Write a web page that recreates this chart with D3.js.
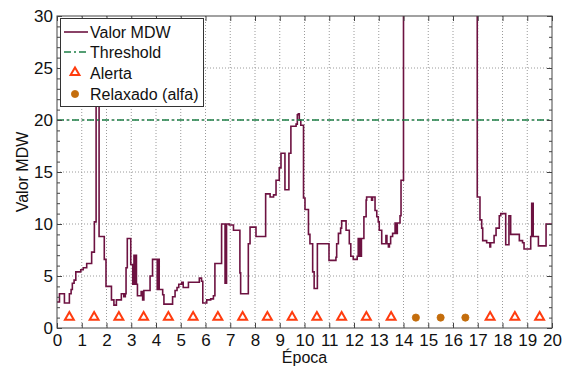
<!DOCTYPE html>
<html>
<head>
<meta charset="utf-8">
<script src="https://cdn.jsdelivr.net/npm/d3@7"></script>
<style>
  html, body { margin: 0; padding: 0; background: #fff; }
  svg text { font-family: "Liberation Sans", Arial, sans-serif; fill: #111; }
</style>
</head>
<body>
<svg id="chart" width="567" height="370"></svg>
<script>
// MDW value per epoch (step series: each value holds until the next epoch mark)
const epochs = [
  0.00, 0.10, 0.30, 0.50, 0.57, 0.62, 0.69, 0.76, 0.96, 1.06, 1.20, 1.40, 1.51, 1.58, 1.70, 1.91, 1.98,
  2.20, 2.30, 2.40, 2.60, 2.70, 2.76, 2.79, 2.84, 2.98, 3.06, 3.11, 3.13, 3.15, 3.17, 3.19, 3.21, 3.25,
  3.40, 3.46, 3.51, 3.76, 3.86, 4.05, 4.07, 4.09, 4.11, 4.13, 4.27, 4.32, 4.67, 4.77, 4.85, 4.92, 5.04,
  5.10, 5.31, 5.75, 5.84, 5.89, 6.05, 6.21, 6.32, 6.38, 6.65, 6.79, 6.85, 6.96, 7.13, 7.39, 7.42, 7.73,
  7.80, 8.04, 8.43, 8.61, 8.75, 8.85, 8.98, 9.05, 9.21, 9.37, 9.45, 9.66, 9.71, 9.75, 9.79, 9.85, 9.96,
  10.02, 10.16, 10.22, 10.33, 10.39, 10.52, 10.99, 11.27, 11.30, 11.37, 11.46, 11.50, 11.68, 11.81, 11.87,
  11.97, 12.13, 12.17, 12.20, 12.24, 12.27, 12.30, 12.40, 12.49, 12.51, 12.71, 12.75, 12.85, 12.92, 12.98,
  13.02, 13.12, 13.29, 13.33, 13.39, 13.43, 13.48, 13.56, 13.66, 13.70, 13.75, 13.86, 13.90, 14.00,
  16.98, 17.09, 17.16, 17.20, 17.36, 17.49, 17.52, 17.66, 17.74, 17.87, 17.93, 18.13, 18.26, 18.33, 18.68,
  18.81, 18.87, 19.14, 19.18, 19.24, 19.45, 19.76, 20.00
];
const mdwValues = [
  2.5, 3.3, 2.4, 3.3, 3.7, 4.3, 4.6, 5.4, 5.6, 5.8, 6.2, 7.3, 10.2, 24.0, 8.8, 6.6, 4.0,
  2.7, 2.2, 2.7, 3.3, 3.0, 3.3, 5.8, 8.6, 6.1, 4.2, 7.0, 4.2, 7.0, 4.2, 7.0, 4.2, 3.1,
  3.5, 2.7, 3.6, 5.0, 6.6, 3.7, 6.6, 3.7, 6.6, 3.7, 3.2, 2.3, 3.0, 3.6, 3.9, 4.2, 4.4,
  3.9, 4.4, 4.8, 4.5, 2.4, 2.7, 2.8, 3.1, 6.2, 10.0, 4.3, 10.0, 9.9, 9.4, 5.3, 3.3, 8.1,
  9.7, 8.8, 12.9, 12.6, 12.8, 14.2, 15.4, 16.8, 13.3, 16.8, 19.4, 19.6, 20.5, 20.6, 20.0, 19.5, 12.5,
  11.4, 9.0, 8.1, 5.4, 3.8, 8.1, 6.5, 6.8, 8.1, 9.1, 9.6, 10.3, 9.4, 8.1, 6.9,
  6.6, 6.9, 8.6, 6.9, 8.6, 6.9, 8.6, 10.7, 12.3, 12.6, 12.3, 12.6, 11.3, 10.7, 10.2,
  9.4, 8.1, 8.9, 8.1, 7.8, 8.1, 8.8, 9.1, 10.1, 9.1, 10.1, 10.8, 14.2, 45.0,
  12.6, 10.4, 9.6, 8.4, 8.2, 7.8, 8.2, 8.9, 9.6, 10.8, 11.0, 8.0, 10.8, 9.0, 8.4,
  8.2, 7.6, 8.8, 12.0, 8.8, 7.9, 10.0, 10.0
];
const threshold = 20;
const alertEpochs = [0.5, 1.5, 2.5, 3.5, 4.5, 5.5, 6.5, 7.5, 8.5, 9.5, 10.5, 11.5, 12.5, 13.5, 17.5, 18.5, 19.5];
const relaxEpochs = [14.5, 15.5, 16.5];
const markerLevel = 1;
const xTicks = d3.range(0, 21, 1);
const yTicks = [0, 5, 10, 15, 20, 25, 30];
const yMinorTicks = d3.range(0, 31, 1);
const legendLabels = ["Valor MDW", "Threshold", "Alerta", "Relaxado (alfa)"];

const lineColor = "#6d1241";
const threshColor = "#1c7f45";
const alertColor = "#ff3c0f";
const relaxColor = "#c46d0c";

const svg = d3.select("#chart");
const m = { left: 57, right: 552, top: 16, bottom: 328 };
const x = d3.scaleLinear().domain([0, 20]).range([m.left, m.right]);
const y = d3.scaleLinear().domain([0, 30]).range([m.bottom, m.top]);

svg.append("defs").append("clipPath").attr("id", "plotClip")
  .append("rect").attr("x", m.left).attr("y", m.top)
  .attr("width", m.right - m.left).attr("height", m.bottom - m.top);

// dotted grid
const grid = svg.append("g");
grid.selectAll(".gx").data(xTicks.slice(1, -1)).join("line")
  .attr("x1", d => x(d)).attr("x2", d => x(d))
  .attr("y1", m.top).attr("y2", m.bottom)
  .attr("stroke", "#9a9a9a").attr("stroke-width", 1).attr("stroke-dasharray", "1,2");
grid.selectAll(".gy").data(yTicks.slice(1, -1)).join("line")
  .attr("x1", m.left).attr("x2", m.right)
  .attr("y1", d => y(d)).attr("y2", d => y(d))
  .attr("stroke", "#9a9a9a").attr("stroke-width", 1).attr("stroke-dasharray", "1,2");

// MDW step line
const series = epochs.map((e, i) => [e, mdwValues[i]]);
const line = d3.line().x(d => x(d[0])).y(d => y(d[1])).curve(d3.curveStepAfter);
svg.append("path").datum(series)
  .attr("clip-path", "url(#plotClip)")
  .attr("fill", "none").attr("stroke", lineColor).attr("stroke-width", 1.6)
  .attr("d", line);

// threshold
svg.append("line")
  .attr("x1", x(0)).attr("x2", x(20)).attr("y1", y(threshold)).attr("y2", y(threshold))
  .attr("stroke", threshColor).attr("stroke-width", 1.6).attr("stroke-dasharray", "7,3,2,3");

// markers
const tri = d3.symbol().type(d3.symbolTriangle).size(34);
svg.selectAll(".alert").data(alertEpochs).join("path")
  .attr("transform", d => `translate(${x(d)},${y(markerLevel) - 0.5})`)
  .attr("d", tri).attr("fill", "#fff").attr("stroke", alertColor).attr("stroke-width", 2);
svg.selectAll(".relax").data(relaxEpochs).join("circle")
  .attr("cx", d => x(d)).attr("cy", y(markerLevel)).attr("r", 3.6)
  .attr("fill", relaxColor).attr("stroke", relaxColor).attr("stroke-width", 0.8);

// axes with inward ticks
const axX = svg.append("g").attr("transform", `translate(0,${m.bottom})`)
  .call(d3.axisBottom(x).tickValues(xTicks).tickSize(-5).tickPadding(6).tickFormat(d3.format("d")));
const axXTop = svg.append("g").attr("transform", `translate(0,${m.top})`)
  .call(d3.axisTop(x).tickValues(xTicks).tickSize(-5).tickFormat(""));
const axY = svg.append("g").attr("transform", `translate(${m.left},0)`)
  .call(d3.axisLeft(y).tickValues(yTicks).tickSize(-5).tickPadding(4).tickFormat(d3.format("d")));
const axYMinor = svg.append("g").attr("transform", `translate(${m.left},0)`)
  .call(d3.axisLeft(y).tickValues(yMinorTicks).tickSize(-3).tickFormat(""));
const axYR = svg.append("g").attr("transform", `translate(${m.right},0)`)
  .call(d3.axisRight(y).tickValues(yTicks).tickSize(-5).tickFormat(""));
const axYRMinor = svg.append("g").attr("transform", `translate(${m.right},0)`)
  .call(d3.axisRight(y).tickValues(yMinorTicks).tickSize(-3).tickFormat(""));

[axX, axXTop, axY, axYMinor, axYR, axYRMinor].forEach(g => {
  g.select(".domain").remove();
  g.selectAll(".tick line").attr("stroke", "#444");
  g.selectAll("text").attr("font-size", 17).attr("fill", "#111")
    .style("font-family", "'Liberation Sans', Arial, sans-serif");
});

// plot frame
svg.append("rect").attr("x", m.left).attr("y", m.top)
  .attr("width", m.right - m.left).attr("height", m.bottom - m.top)
  .attr("fill", "none").attr("stroke", "#444").attr("stroke-width", 1);

// axis titles
svg.append("text").attr("x", (m.left + m.right) / 2).attr("y", 363)
  .attr("text-anchor", "middle").attr("font-size", 16).text("Época");
svg.append("text").attr("transform", "translate(28,172) rotate(-90)")
  .attr("text-anchor", "middle").attr("font-size", 16).text("Valor MDW");

// legend
const lg = svg.append("g");
lg.append("rect").attr("x", 60.5).attr("y", 18.5).attr("width", 143).attr("height", 88)
  .attr("fill", "#fff").attr("stroke", "#333").attr("stroke-width", 1);
const rowY = [32, 52, 73, 94];
lg.append("line").attr("x1", 64).attr("x2", 88).attr("y1", rowY[0]).attr("y2", rowY[0])
  .attr("stroke", lineColor).attr("stroke-width", 1.6);
lg.append("line").attr("x1", 64).attr("x2", 88).attr("y1", rowY[1]).attr("y2", rowY[1])
  .attr("stroke", threshColor).attr("stroke-width", 1.6).attr("stroke-dasharray", "7,3,2,3");
lg.append("path").attr("transform", `translate(75,${rowY[2] - 0.5})`).attr("d", tri)
  .attr("fill", "#fff").attr("stroke", alertColor).attr("stroke-width", 2);
lg.append("circle").attr("cx", 75).attr("cy", rowY[3]).attr("r", 3.6)
  .attr("fill", relaxColor).attr("stroke", relaxColor).attr("stroke-width", 0.8);
lg.selectAll(".lt").data(legendLabels).join("text")
  .attr("x", 90).attr("y", (d, i) => rowY[i] + 6)
  .attr("font-size", 16).text(d => d);
</script>
</body>
</html>
